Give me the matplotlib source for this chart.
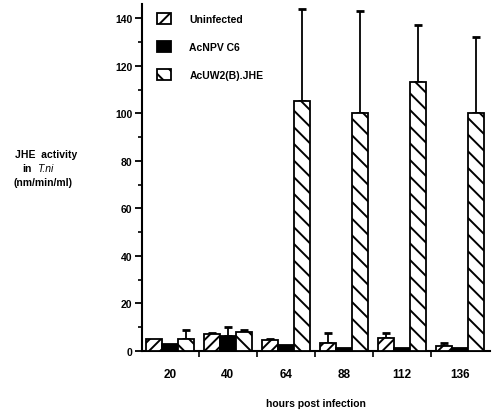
import numpy as np
import matplotlib
matplotlib.use("Agg")
import matplotlib.pyplot as plt
from matplotlib.patches import Patch

plt.rcParams['font.family'] = ['Liberation Sans', 'DejaVu Sans']
plt.rcParams['hatch.linewidth'] = 1.4

# data
hours = ['20', '40', '64', '88', '112', '136']
series = ['Uninfected', 'AcNPV C6', 'AcUW2(B).JHE']
uninfected = [5, 7, 4.5, 3.5, 5.5, 2]
uninfected_err = [0, 0.5, 0.5, 4, 2, 1.5]
acnpv = [3, 6.5, 2.5, 1.3, 1.3, 1.3]
acnpv_err = [0, 3.5, 0, 0, 0, 0]
acuw2 = [5, 8, 105, 100, 113, 100]
acuw2_err = [4, 1, 39, 43, 24, 32]

fig = plt.figure(figsize=(4.92, 4.10), dpi=100)
ax = fig.add_axes([142 / 492, 1 - 352 / 410, 348 / 492, 347 / 410])

x = np.arange(len(hours))
w = 0.276
styles = [
    (uninfected, uninfected_err, 'white', '///'),
    (acnpv, acnpv_err, 'black', None),
    (acuw2, acuw2_err, 'white', '\\\\'),
]
for i, (vals, errs, fc, hatch) in enumerate(styles):
    xs = x + (i - 1) * w
    ax.bar(xs, vals, width=w, facecolor=fc, edgecolor='black', hatch=hatch,
           linewidth=1.3, zorder=3)
    e = np.array(errs)
    m = e > 0
    ax.errorbar(xs[m], np.array(vals)[m], yerr=[np.zeros(m.sum()), e[m]],
                fmt='none', ecolor='black', elinewidth=1.3, capsize=3,
                capthick=2, zorder=2)

ax.set_xlim(-0.48, 5.52)
ax.set_ylim(0, 146)
ax.spines['top'].set_visible(False)
ax.spines['right'].set_visible(False)
ax.spines['left'].set_linewidth(1.5)
ax.spines['bottom'].set_linewidth(1.5)

ax.set_yticks(np.arange(0, 141, 20))
ax.set_yticks(np.arange(10, 140, 20), minor=True)
ax.tick_params(axis='y', which='major', direction='out', length=5, width=1.3,
               labelsize=7.5, pad=2)
ax.tick_params(axis='y', which='minor', direction='out', length=3, width=1.2)
for t in ax.get_yticklabels():
    t.set_fontweight('bold')

ax.set_xticks(x)
ax.set_xticklabels(hours, fontweight='bold', fontsize=8.5)
ax.set_xticks(x[:-1] + 0.5, minor=True)
ax.tick_params(axis='x', which='major', length=0, pad=12)
ax.tick_params(axis='x', which='minor', direction='out', length=4, width=1.2)

ax.set_xlabel('hours post infection', fontsize=7.5, fontweight='bold', labelpad=13)

fig.text(15 / 492, 1 - 155 / 410, 'JHE  activity', fontsize=7.5, fontweight='bold',
         va='center', ha='left')
fig.text(22 / 492, 1 - 169 / 410, 'in', fontsize=7.5, fontweight='bold',
         va='center', ha='left')
fig.text(37 / 492, 1 - 169 / 410, 'T.ni', fontsize=7.5, fontstyle='italic',
         va='center', ha='left')
fig.text(13 / 492, 1 - 183 / 410, '(nm/min/ml)', fontsize=7.5, fontweight='bold',
         va='center', ha='left')

handles = [
    Patch(facecolor='white', edgecolor='black', hatch='//', linewidth=1.3),
    Patch(facecolor='black', edgecolor='black', linewidth=1.3),
    Patch(facecolor='white', edgecolor='black', hatch='\\\\', linewidth=1.3),
]
leg = ax.legend(handles, series, loc='upper left',
                bbox_to_anchor=(157 / 492, 1 - 14 / 410),
                bbox_transform=fig.transFigure, frameon=False,
                borderpad=0, borderaxespad=0, handlelength=1.3,
                handleheight=1.3, handletextpad=1.8, labelspacing=1.6,
                prop={'size': 7.5, 'weight': 'bold'})

fig.savefig('out.png', dpi=100)
